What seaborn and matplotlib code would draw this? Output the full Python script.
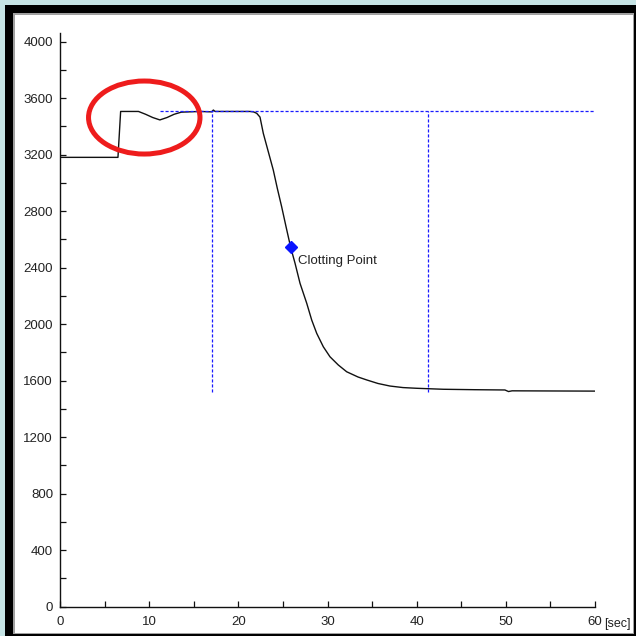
import matplotlib
matplotlib.use("Agg")
import matplotlib.pyplot as plt
from matplotlib.patches import Ellipse, Rectangle
import seaborn as sns
import pandas as pd

# Sensor trace: time in seconds, signal amplitude
time_sec = [0.0, 6.5, 6.8, 8.8, 9.6, 10.4, 11.2, 12.0, 12.8, 13.6, 15.7, 17.0,
            17.2, 17.4, 21.3, 21.7, 22.06, 22.43, 22.8, 23.36, 23.92, 24.37,
            24.86, 25.35, 25.87, 26.36, 26.92, 27.67, 28.23, 28.79, 29.53,
            30.28, 31.21, 32.15, 33.42, 34.4, 35.66, 37.0, 38.47, 40.0, 43.0,
            46.5, 49.9, 50.3, 50.7, 55.0, 60.0]
signal = [3180, 3180, 3505, 3505, 3485, 3462, 3445, 3462, 3485, 3500, 3505, 3502,
          3515, 3505, 3505, 3502, 3492, 3465, 3350, 3220, 3090, 2961,
          2830, 2689, 2543, 2430, 2288, 2147, 2028, 1934, 1839,
          1768, 1710, 1662, 1625, 1604, 1579, 1561, 1550, 1545, 1538,
          1535, 1533, 1522, 1527, 1526, 1525]

# Clotting point marker
clot_time = 25.87
clot_value = 2543

# Reference levels
plateau_level = 3505
final_level = 1520
plateau_start = 11.2
marker_times = [17.05, 41.3]

df = pd.DataFrame({"time": time_sec, "signal": signal})

sns.set_style("ticks")
plt.rcParams["font.family"] = ["Liberation Sans", "DejaVu Sans"]

fig = plt.figure(figsize=(6.36, 6.36), dpi=100)
fig.patch.set_facecolor("#c6e4e5")

W = H = 636.0
def frect(x0, y0, x1, y1, **kw):
    fig.add_artist(Rectangle((x0 / W, 1 - y1 / H), (x1 - x0) / W, (y1 - y0) / H,
                             transform=fig.transFigure, zorder=-5, **kw))

# Window frame
frect(5, 5, 636, 636, facecolor="black", edgecolor="none")
frect(13, 13, 634, 634, facecolor="#a0a0a0", edgecolor="none")
frect(15, 15, 633, 633, facecolor="white", edgecolor="none")

ax = fig.add_axes([60 / W, (636 - 606.5) / H, 535 / W, 574 / H])
ax.set_facecolor("none")
ax.set_zorder(2)

sns.lineplot(data=df, x="time", y="signal", ax=ax, color="#111111",
             linewidth=1.0, sort=False, estimator=None)

# Dashed guide lines
ax.plot([plateau_start, 60], [plateau_level, plateau_level], color="#1a1aff",
        linewidth=0.9, linestyle=(0, (2.5, 1.5)))
for t in marker_times:
    ax.plot([t, t], [final_level, plateau_level], color="#1a1aff",
            linewidth=0.9, linestyle=(0, (2.5, 1.5)))

# Clotting point
ax.plot([clot_time], [clot_value], marker="D", markersize=6.5, color="#0a14ff",
        linestyle="none", zorder=5)
ax.annotate("Clotting Point", (clot_time, clot_value), xytext=(5, -10),
            textcoords="offset points", fontsize=9.5, color="#222222",
            va="center", ha="left")

# Highlight ring
ax.add_patch(Ellipse((9.45, 3462), 12.5, 517, fill=False, edgecolor="#ee1c1c",
                     linewidth=3.6, zorder=6, clip_on=False))

ax.set_xlim(0, 60)
ax.set_ylim(0, 4064)
ax.set_xticks(list(range(0, 61, 5)))
ax.set_xticklabels([str(v) if v % 10 == 0 else "" for v in range(0, 61, 5)])
ax.set_yticks(list(range(0, 4001, 200)))
ax.set_yticklabels([str(v) if v % 400 == 0 else "" for v in range(0, 4001, 200)])
ax.tick_params(direction="in", length=4.3, width=0.9, colors="#111111",
               labelsize=9.5, labelcolor="#222222")
ax.tick_params(axis="x", pad=7)
ax.tick_params(axis="y", pad=5)
ax.set_xlabel("")
ax.set_ylabel("")
for side in ("top", "right"):
    ax.spines[side].set_visible(False)
for side in ("left", "bottom"):
    ax.spines[side].set_color("#111111")
    ax.spines[side].set_linewidth(1.0)

fig.text(604 / W, 1 - 624 / H, "[sec]", fontsize=9, color="#222222",
         ha="left", va="center")

fig.savefig("out.png", dpi=100, facecolor=fig.get_facecolor())
